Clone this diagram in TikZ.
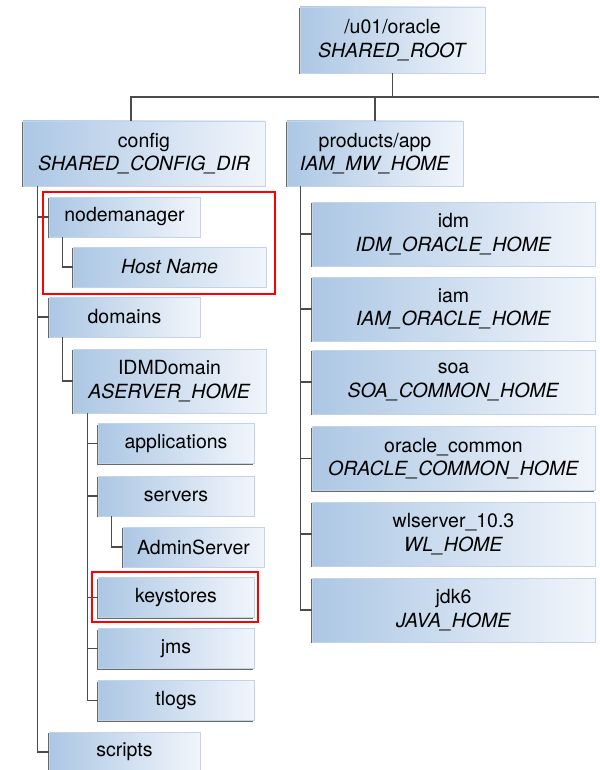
\documentclass[tikz,border=0pt]{standalone}
\usepackage{fontspec}
\setmainfont{TeX Gyre Heros}
\usetikzlibrary{shadows}
\definecolor{dirleft}{RGB}{172,199,228}
\definecolor{dirright}{RGB}{241,245,251}
\definecolor{diredge}{RGB}{196,212,232}
\definecolor{treeline}{RGB}{75,75,75}

\begin{document}
\begin{tikzpicture}[x=1pt, y=-1pt, font=\fontsize{19.5}{23.5}\selectfont,
  dir/.style={draw=diredge, left color=dirleft, right color=dirright, align=center, inner sep=0pt,
    drop shadow={shadow xshift=-1pt, shadow yshift=-1.3pt, fill=black!65, opacity=0.9}},
  home/.style={dir, minimum height=64pt},
  leaf/.style={dir, minimum height=40pt},
  tree/.style={draw=treeline, line width=1.1pt},
  hilite/.style={draw=red, line width=2.8pt}]
\clip (0,0) rectangle (599,770);
% root and first level
\node[home, minimum width=185pt, minimum height=66pt] (root) at (392.5,40) {/u01/oracle\\\textit{SHARED\_ROOT}};
\node[home, minimum width=242pt, minimum height=65pt] (config) at (144,153.5) {config\\\textit{SHARED\_CONFIG\_DIR}};
\node[home, minimum width=176pt, minimum height=65pt] (products) at (375,153.5) {products/app\\\textit{IAM\_MW\_HOME}};
\coordinate (busend) at (599,97);
\draw[tree] ([xshift=-13pt]config.north) |- (busend);
\draw[tree] (root.south) -- (root.south |- busend);
\draw[tree] (products.north) -- (products.north |- busend);

% products/app
\node[home, minimum width=283pt] (idm) at (453.5,234) {idm\\\textit{IDM\_ORACLE\_HOME}};
\node[home, minimum width=283pt] (iam) at (453.5,309) {iam\\\textit{IAM\_ORACLE\_HOME}};
\node[home, minimum width=283pt] (soa) at (453.5,382) {soa\\\textit{SOA\_COMMON\_HOME}};
\node[home, minimum width=283pt] (oracommon) at (453.5,458.5) {oracle\_common\\\textit{ORACLE\_COMMON\_HOME}};
\node[home, minimum width=283pt] (wlserver) at (453.5,534) {wlserver\_10.3\\\textit{WL\_HOME}};
\node[home, minimum width=283pt] (jdk) at (453.5,610) {jdk6\\\textit{JAVA\_HOME}};
\coordinate (prodtrunk) at ([xshift=14pt]products.south west);
\draw[tree] (prodtrunk) |- (jdk.west);
\draw[tree] (prodtrunk |- idm.west) -- (idm.west);
\draw[tree] (prodtrunk |- iam.west) -- (iam.west);
\draw[tree] (prodtrunk |- soa.west) -- (soa.west);
\draw[tree] (prodtrunk |- oracommon.west) -- (oracommon.west);
\draw[tree] (prodtrunk |- wlserver.west) -- (wlserver.west);

% config
\node[leaf, minimum width=151pt] (nodemgr) at (124.5,217) {nodemanager};
\node[leaf, minimum width=193pt] (host) at (169.5,267) {\textit{Host Name}};
\node[leaf, minimum width=151pt] (domains) at (124.5,317) {domains};
\node[home, minimum width=193pt] (idmdomain) at (169.5,381) {IDMDomain\\\textit{ASERVER\_HOME}};
\node[leaf, minimum width=156pt] (apps) at (176,443.5) {applications};
\node[leaf, minimum width=156pt] (servers) at (176,496) {servers};
\node[leaf, minimum width=141pt] (admin) at (193.5,547) {AdminServer};
\node[leaf, minimum width=156pt] (keystores) at (176,597.5) {keystores};
\node[leaf, minimum width=156pt] (jms) at (176,648.5) {jms};
\node[leaf, minimum width=156pt] (tlogs) at (176,700.5) {tlogs};
\node[leaf, minimum width=151pt] (scripts) at (124.5,752) {scripts};
\coordinate (cfgtrunk) at ([xshift=15pt]config.south west);
\draw[tree] (cfgtrunk) |- (scripts.west);
\draw[tree] (cfgtrunk |- nodemgr.west) -- (nodemgr.west);
\draw[tree] (cfgtrunk |- domains.west) -- (domains.west);
\draw[tree] ([xshift=14pt]nodemgr.south west) |- (host.west);
\draw[tree] ([xshift=14pt]domains.south west) |- (idmdomain.west);
\coordinate (domtrunk) at ([xshift=15pt]idmdomain.south west);
\draw[tree] (domtrunk) |- (tlogs.west);
\draw[tree] (domtrunk |- apps.west) -- (apps.west);
\draw[tree] (domtrunk |- servers.west) -- (servers.west);
\draw[tree] (domtrunk |- keystores.west) -- (keystores.west);
\draw[tree] (domtrunk |- jms.west) -- (jms.west);
\draw[tree] ([xshift=14pt]servers.south west) |- (admin.west);

% highlighted folders
\draw[hilite] (43,192) rectangle (275,294);
\draw[hilite] (92,572) rectangle (258,622);
\end{tikzpicture}
\end{document}
